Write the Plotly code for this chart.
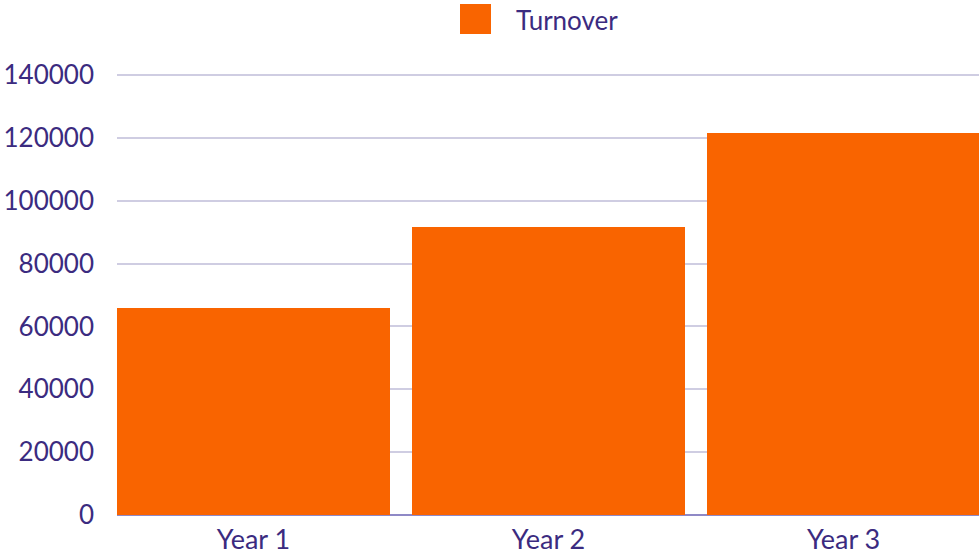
import plotly.graph_objects as go

categories = ["Year 1", "Year 2", "Year 3"]
turnover = [65900, 91600, 121600]
series_name = "Turnover"
y_ticks = [0, 20000, 40000, 60000, 80000, 100000, 120000, 140000]

BAR_COLOR = "#f96400"
TEXT_COLOR = "#3b2b80"
GRID_COLOR = "#cfcde2"
FONT = "Lato"

W, H = 979, 554
ML, MR, MT, MB = 117, 0, 73, 39
plot_w = W - ML - MR
plot_h = H - MT - MB
# axis maximum slightly above the top tick so its gridline is drawn at y=75px
y_max = 140000 * plot_h / 440

fig = go.Figure()
fig.add_trace(go.Bar(
    x=categories, y=turnover, name=series_name,
    marker=dict(color=BAR_COLOR, line=dict(width=0)),
    width=0.9254, showlegend=False,
))

# custom legend (large swatch + label), positioned in pixels converted to paper
def px_x(p):
    return (p - ML) / plot_w

def px_y(p):
    return (H - MB - p) / plot_h

fig.add_shape(type="rect", xref="paper", yref="paper",
              x0=px_x(460), x1=px_x(491), y0=px_y(34), y1=px_y(4),
              fillcolor=BAR_COLOR, line=dict(width=0))
fig.add_annotation(text=series_name, xref="paper", yref="paper",
                   x=px_x(514), y=px_y(20), xanchor="left", yanchor="middle",
                   showarrow=False, font=dict(family=FONT, size=26, color=TEXT_COLOR))

fig.update_layout(
    width=W, height=H,
    margin=dict(l=ML, r=MR, t=MT, b=MB, pad=0),
    paper_bgcolor="white", plot_bgcolor="white",
    font=dict(family=FONT, size=26, color=TEXT_COLOR),
    bargap=0,
    xaxis=dict(range=[-0.4627, 2.459], showgrid=False, showline=False,
               zeroline=False, ticks="", ticklabelstandoff=6,
               tickfont=dict(size=27, color=TEXT_COLOR)),
    yaxis=dict(range=[0, y_max], tickvals=y_ticks,
               ticktext=[str(v) for v in y_ticks],
               showgrid=True, gridcolor=GRID_COLOR, gridwidth=2,
               zeroline=True, zerolinecolor="#8f89c6", zerolinewidth=2,
               showline=False, ticks="", ticklabelstandoff=22,
               tickfont=dict(size=26, color=TEXT_COLOR)),
)

fig.write_html("out.html", config={"displayModeBar": False},
               post_script="document.body.style.margin='0';document.body.style.overflow='hidden';")
